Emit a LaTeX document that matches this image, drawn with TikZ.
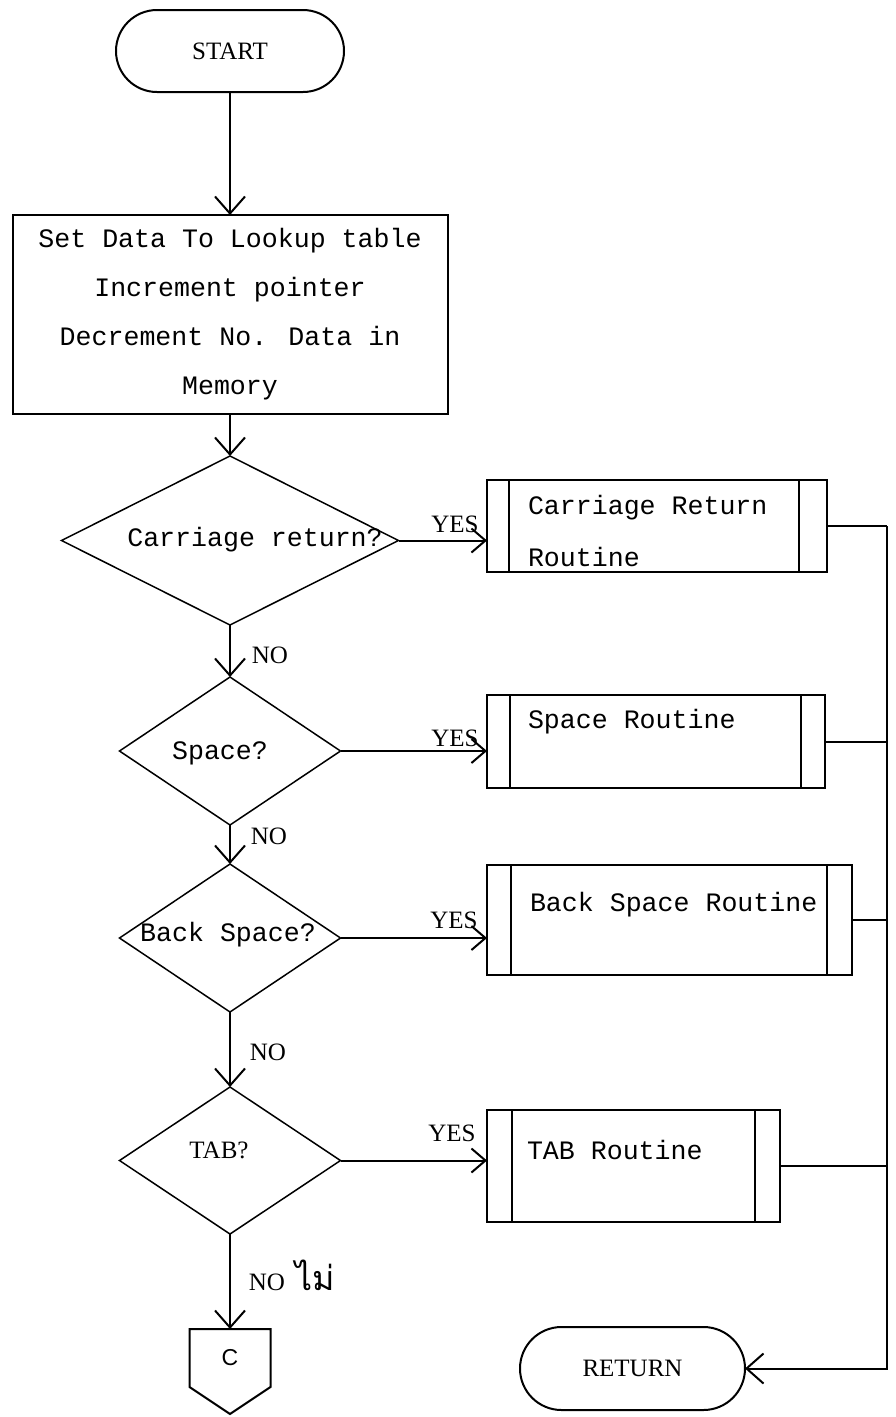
\documentclass[tikz,border=0pt]{standalone}
\usepackage{fontspec}
\setmainfont{Liberation Serif}
\newfontfamily\monof{Liberation Mono}
\newfontfamily\sansf{Liberation Sans}
\newfontfamily\thaif[Script=Thai]{Loma}
\usetikzlibrary{shapes.geometric,shapes.misc,arrows.meta}
\begin{document}
\begin{tikzpicture}[x=1pt,y=-1pt,
  line width=2pt,
  every node/.style={inner sep=0pt, outer sep=0pt},
  mono/.style={font=\monof\fontsize{26.6pt}{49pt}\selectfont},
  serif/.style={font=\fontsize{25pt}{30pt}\selectfont},
  term/.style={draw, rounded rectangle, serif},
  proc/.style={draw, rectangle, mono, align=center},
  dec/.style={draw, diamond, line width=1.5pt},
  subr/.style={draw, rectangle},
  flow/.style={-{Straight Barb[length=17pt,width=30pt]}},
  yesflow/.style={-{Straight Barb[length=14pt,width=24pt]}}
]
\useasboundingbox (0,0) rectangle (895,1417);

% terminals
\node[term, minimum width=228pt, minimum height=82pt] (start) at (230,51) {START};
\node[term, minimum width=225pt, minimum height=83pt] (ret) at (632.5,1368.5) {RETURN};

% process
\node[proc, minimum width=435pt, minimum height=199pt] (proc) at (230,314.5)
  {Set Data To Lookup table\\Increment pointer\\ Decrement No. Data in\\Memory};

% decisions
\node[dec, minimum width=337pt, minimum height=169pt] (d1) at (230,540.5) {};
\node[mono] (q1) at (255,540) {Carriage return?};
\node[dec, minimum width=221pt, minimum height=148pt] (d2) at (230,751) {};
\node[mono] (q2) at (220,753) {Space?};
\node[dec, minimum width=221pt, minimum height=148pt] (d3) at (230,938) {};
\node[mono] (q3) at (228,935) {Back Space?};
\node[dec, minimum width=221pt, minimum height=147pt] (d4) at (230,1160.5) {};
\node[serif] (q4) at (219,1150) {TAB?};

% subroutines
\node[subr, minimum width=340pt, minimum height=92pt] (r1) at (657,526) {};
\node[subr, minimum width=338pt, minimum height=93pt] (r2) at (656,741.5) {};
\node[subr, minimum width=365pt, minimum height=110pt] (r3) at (669.5,920) {};
\node[subr, minimum width=293pt, minimum height=112pt] (r4) at (633.5,1166) {};
\foreach \r/\a/\b in {r1/22/28, r2/23/24, r3/24/25, r4/25/25}{
  \draw ([xshift=\a pt]\r.north west) -- ([xshift=\a pt]\r.south west);
  \draw ([xshift=-\b pt]\r.north east) -- ([xshift=-\b pt]\r.south east);
}
\node[mono, anchor=west] (t1a) at (528,508) {Carriage Return};
\node[mono, anchor=west] (t1b) at (528,557) {Routine};
\node[mono, anchor=west] (t2) at (528,722) {Space Routine};
\node[mono, anchor=west] (t3) at (530,905) {Back Space Routine};
\node[mono, anchor=west] (t4) at (527,1150) {TAB Routine};

% off-page connector
\node[minimum width=81pt, minimum height=58pt, anchor=north, font=\sansf\fontsize{23pt}{26pt}\selectfont] (c) at (230,1329) {C};
\draw (c.north west) -- (c.north east) -- (c.south east) -- ([yshift=-27pt]c.south) -- (c.south west) -- cycle;

% main flow
\draw[flow] (start) -- (proc);
\draw[flow] (proc) -- (d1);
\draw[flow] (d1) -- (d2);
\draw[flow] (d2) -- (d3);
\draw[flow] (d3) -- (d4);
\draw[flow] (d4) -- (c);

% yes branches
\draw[yesflow] (d1.east) -- (d1.east -| r1.west);
\draw[yesflow] (d2.east) -- (d2.east -| r2.west);
\draw[yesflow] (d3.east) -- (d3.east -| r3.west);
\draw[yesflow] (d4.east) -- (d4.east -| r4.west);

% labels
\node[serif] (y1) at (455,524) {YES};
\node[serif] (y2) at (455,738) {YES};
\node[serif] (y3) at (454,920) {YES};
\node[serif] (y4) at (452,1133) {YES};
\node[serif] (n1) at (270,655) {NO};
\node[serif] (n2) at (269,836) {NO};
\node[serif] (n3) at (268,1052) {NO};
\node[serif] (n4) at (267,1282) {NO};
\node[font=\thaif\fontsize{34pt}{38pt}\selectfont] (n4t) at (315,1275) {ไม่};

% return bus
\coordinate (bus) at (887,0);
\draw (r1.east) -- (r1.east -| bus);
\draw (r2.east) -- (r2.east -| bus);
\draw (r3.east) -- (r3.east -| bus);
\draw (r4.east) -- (r4.east -| bus);
\draw[flow] (r1.east -| bus) -- (bus |- ret.east) -- (ret.east);
\end{tikzpicture}
\end{document}
